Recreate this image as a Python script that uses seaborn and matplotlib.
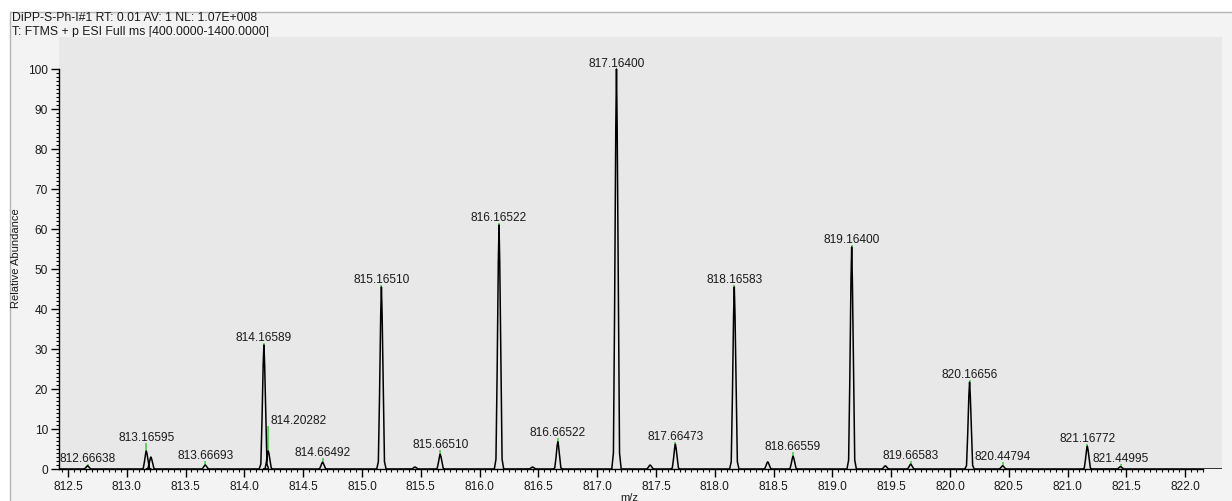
import numpy as np
import pandas as pd
import matplotlib
matplotlib.use("Agg")
import matplotlib.pyplot as plt
from matplotlib.patches import Rectangle
import seaborn as sns

# Profile peaks: m/z and relative abundance (%)
peak_mz = [812.66638, 813.16595, 813.20500, 813.66693, 814.16589, 814.20282,
           814.66492, 815.16510, 815.45000, 815.66510, 816.16522, 816.45000,
           816.66522, 817.16400, 817.45000, 817.66473, 818.16583, 818.45000,
           818.66559, 819.16400, 819.45000, 819.66583, 820.16656, 820.44794,
           821.16772, 821.44995]
peak_int = [0.8, 4.5, 3.0, 1.0, 31.0, 4.5,
            1.7, 45.5, 0.5, 3.7, 61.0, 0.5,
            6.8, 100.0, 1.0, 6.2, 45.5, 1.8,
            3.2, 55.5, 0.8, 1.2, 21.7, 0.8,
            5.7, 0.6]

# Centroid annotations: labelled m/z and centroid abundance
label_mz = [812.66638, 813.16595, 813.66693, 814.16589, 814.20282, 814.66492,
            815.16510, 815.66510, 816.16522, 816.66522, 817.16400, 817.66473,
            818.16583, 818.66559, 819.16400, 819.66583, 820.16656, 820.44794,
            821.16772, 821.44995]
label_int = [1.2, 6.5, 2.0, 31.6, 10.7, 2.7,
             46.0, 4.7, 61.5, 7.7, 100.0, 6.8,
             46.0, 4.2, 56.0, 2.0, 22.2, 1.7,
             6.2, 1.2]

header_lines = ["DiPP-S-Ph-I#1 RT: 0.01 AV: 1 NL: 1.07E+008",
                "T: FTMS + p ESI Full ms [400.0000-1400.0000]"]

# Shape of a single profile peak (offset in m/z, fraction of apex)
shape_dx = [-0.04, -0.026, -0.016, -0.006, 0.0, 0.006, 0.016, 0.026, 0.04]
shape_fr = [0.0, 0.04, 0.4, 0.85, 1.0, 0.85, 0.45, 0.04, 0.0]

sns.set_theme(style="white")
plt.rcParams["font.family"] = ["Liberation Sans", "DejaVu Sans"]

X0, X1 = 812.4235, 822.313
xs, ys = [X0], [0.0]
for mz, h in zip(peak_mz, peak_int):
    for dx, fr in zip(shape_dx, shape_fr):
        xs.append(mz + dx)
        ys.append(h * fr)
xs.append(X1)
ys.append(0.0)
profile = pd.DataFrame({"mz": xs, "abundance": ys})
apex = dict(zip(peak_mz, peak_int))

W, H = 1232, 502
fig = plt.figure(figsize=(W / 100, H / 100), dpi=100, facecolor="white")

# framed panel behind the plot
panel = fig.add_axes([0, 0, 1, 1], zorder=0)
panel.set_axis_off()
panel.set_xlim(0, W)
panel.set_ylim(H, 0)
panel.add_patch(Rectangle((9.5, 12.5), W, H, facecolor="#f3f3f3",
                          edgecolor="#b4b4b4", linewidth=1.0))
panel.text(12, 18, header_lines[0], fontsize=8.8, color="#1a1a1a", va="center", ha="left")
panel.text(12, 32, header_lines[1], fontsize=8.8, color="#1a1a1a", va="center", ha="left")

ax = fig.add_axes([59 / W, 32 / H, (1222 - 59) / W, (470 - 38) / H], zorder=2)
ax.set_facecolor("#e8e8e8")

# centroid sticks, visible above the profile apex
for mz, h in zip(label_mz, label_int):
    base = apex.get(mz, 0.0)
    ax.plot([mz, mz], [base, h], color="#3ccc3c", lw=1.1, zorder=2,
            solid_capstyle="butt")

sns.lineplot(data=profile, x="mz", y="abundance", sort=False, estimator=None,
             color="black", lw=1.1, ax=ax, zorder=3)

label_shift = {814.20282: 30}
for mz, h in zip(label_mz, label_int):
    ax.annotate(f"{mz:.5f}", xy=(mz, h), xytext=(label_shift.get(mz, 0) * 0.72, 2.0),
                textcoords="offset points", ha="center", va="baseline",
                fontsize=8.6, color="#1a1a1a", zorder=4)

ax.set_xlim(X0, X1)
ax.set_ylim(0, 108)
ax.set_xticks(np.arange(812.5, 822.01, 0.5))
ax.set_xticklabels([f"{v:.1f}" for v in np.arange(812.5, 822.01, 0.5)])
ax.set_xticks(np.arange(812.45, 822.16, 0.05), minor=True)
ax.set_yticks(np.arange(0, 101, 10))
ax.set_yticks(np.arange(0, 101, 1), minor=True)

for side in ("top", "right"):
    ax.spines[side].set_visible(False)
ax.spines["left"].set_bounds(0, 100)
ax.spines["bottom"].set_bounds(X0, 822.15)
for side in ("left", "bottom"):
    ax.spines[side].set_color("black")
    ax.spines[side].set_linewidth(1.0)

ax.tick_params(axis="both", which="major", direction="out", length=6, width=1.0,
               color="black", labelsize=8.6, labelcolor="#1a1a1a", pad=2,
               bottom=True, left=True)
ax.tick_params(axis="both", which="minor", direction="out", length=2.5, width=0.8,
               color="black", bottom=True, left=True)

ax.set_xlabel("m/z", fontsize=8, color="#1a1a1a")
ax.xaxis.set_label_coords(0.49, -23 / (470 - 38))
ax.set_ylabel("Relative Abundance", fontsize=8, color="#1a1a1a")
ax.yaxis.set_label_coords(-38 / (1222 - 59), 0.49)

fig.savefig("out.png", dpi=100, facecolor="white")
